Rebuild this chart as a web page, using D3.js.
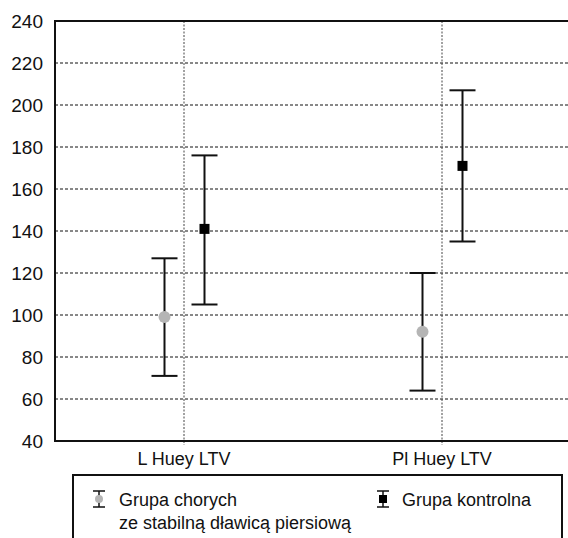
<!DOCTYPE html>
<html>
<head>
<meta charset="utf-8">
<script src="https://cdn.jsdelivr.net/npm/d3@7"></script>
<style>
  body { margin: 0; background: #fff; }
  svg text { font-family: "Liberation Sans", Arial, sans-serif; fill: #111; }
</style>
</head>
<body>
<div id="chart"></div>
<script>
const categories = ['L Huey LTV', 'Pl Huey LTV'];
const yTicks = [40, 60, 80, 100, 120, 140, 160, 180, 200, 220, 240];

// mean, lower, upper per category
const sickMean = [99, 92];
const sickLow = [71, 64];
const sickHigh = [127, 120];

const controlMean = [141, 171];
const controlLow = [105, 135];
const controlHigh = [176, 207];

const legendLabels = [['Grupa chorych', 'ze stabilną dławicą piersiową'], ['Grupa kontrolna']];

const width = 568;
const height = 538;
const plotLeft = 55, plotTop = 21, plotBottom = 441;

const svg = d3.select('#chart').append('svg')
	.attr('width', width)
	.attr('height', height);

const x = d3.scaleBand().domain(categories).range([plotLeft, plotLeft + 516]);
const y = d3.scaleLinear().domain([40, 240]).range([plotBottom, plotTop]);
const cx = (c) => x(c) + x.bandwidth() / 2;

// horizontal grid
svg.selectAll('.hgrid')
	.data(yTicks.filter((t) => t > 40 && t < 240))
	.join('line')
	.attr('x1', plotLeft).attr('x2', width)
	.attr('y1', (d) => y(d)).attr('y2', (d) => y(d))
	.attr('stroke', '#111')
	.attr('stroke-width', 1)
	.attr('stroke-dasharray', '3,2');

// vertical grid
svg.selectAll('.vgrid')
	.data(categories)
	.join('line')
	.attr('x1', (d) => cx(d)).attr('x2', (d) => cx(d))
	.attr('y1', plotTop).attr('y2', plotBottom + 4)
	.attr('stroke', '#444')
	.attr('stroke-width', 1)
	.attr('stroke-dasharray', '2,1.5');

// frame
svg.append('line').attr('x1', plotLeft).attr('x2', width).attr('y1', plotTop).attr('y2', plotTop)
	.attr('stroke', '#111').attr('stroke-width', 2);
svg.append('line').attr('x1', plotLeft).attr('x2', width).attr('y1', plotBottom).attr('y2', plotBottom)
	.attr('stroke', '#111').attr('stroke-width', 2);
svg.append('line').attr('x1', plotLeft).attr('x2', plotLeft).attr('y1', plotTop - 1).attr('y2', plotBottom + 1)
	.attr('stroke', '#111').attr('stroke-width', 2);

// y labels
svg.selectAll('.ylab')
	.data(yTicks)
	.join('text')
	.attr('x', 43)
	.attr('y', (d) => y(d) + 7)
	.attr('text-anchor', 'end')
	.attr('font-size', 19)
	.text((d) => d);

// x labels
svg.selectAll('.xlab')
	.data(categories)
	.join('text')
	.attr('x', (d) => cx(d))
	.attr('y', 465)
	.attr('text-anchor', 'middle')
	.attr('font-size', 18)
	.text((d) => d);

function errorBars(mean, low, high, offset, kind) {
	const g = svg.append('g');
	const d = categories.map((c, i) => ({ c, m: mean[i], lo: low[i], hi: high[i] }));
	g.selectAll('.stem').data(d).join('line')
		.attr('x1', (e) => cx(e.c) + offset).attr('x2', (e) => cx(e.c) + offset)
		.attr('y1', (e) => y(e.hi)).attr('y2', (e) => y(e.lo))
		.attr('stroke', '#111').attr('stroke-width', 2);
	['hi', 'lo'].forEach((k) => {
		g.selectAll('.cap-' + k).data(d).join('line')
			.attr('x1', (e) => cx(e.c) + offset - 13).attr('x2', (e) => cx(e.c) + offset + 13)
			.attr('y1', (e) => y(e[k])).attr('y2', (e) => y(e[k]))
			.attr('stroke', '#111').attr('stroke-width', 2);
	});
	if (kind === 'circle') {
		g.selectAll('circle').data(d).join('circle')
			.attr('cx', (e) => cx(e.c) + offset).attr('cy', (e) => y(e.m))
			.attr('r', 6).attr('fill', '#b5b5b5');
	} else {
		g.selectAll('rect').data(d).join('rect')
			.attr('x', (e) => cx(e.c) + offset - 5).attr('y', (e) => y(e.m) - 5)
			.attr('width', 10).attr('height', 10).attr('fill', '#000');
	}
}

errorBars(sickMean, sickLow, sickHigh, -19.5, 'circle');
errorBars(controlMean, controlLow, controlHigh, 20.5, 'square');

// legend
svg.append('rect')
	.attr('x', 73).attr('y', 475)
	.attr('width', 489).attr('height', 80)
	.attr('fill', 'none').attr('stroke', '#111').attr('stroke-width', 2);

function legendSymbol(sx, sy, kind) {
	const g = svg.append('g');
	g.append('line').attr('x1', sx).attr('x2', sx).attr('y1', sy - 8).attr('y2', sy + 8)
		.attr('stroke', '#111').attr('stroke-width', 1.5);
	[-8, 8].forEach((dy) => {
		g.append('line').attr('x1', sx - 6).attr('x2', sx + 6).attr('y1', sy + dy).attr('y2', sy + dy)
			.attr('stroke', '#111').attr('stroke-width', 1.5);
	});
	if (kind === 'circle') {
		g.append('circle').attr('cx', sx).attr('cy', sy).attr('r', 4).attr('fill', '#b5b5b5');
	} else {
		g.append('rect').attr('x', sx - 4).attr('y', sy - 4).attr('width', 8).attr('height', 8).attr('fill', '#000');
	}
}

legendSymbol(99, 499, 'circle');
legendSymbol(383, 499, 'square');

const leg1 = svg.append('text').attr('x', 119).attr('y', 506).attr('font-size', 18);
legendLabels[0].forEach((t, i) => {
	leg1.append('tspan').attr('x', 119).attr('dy', i === 0 ? 0 : 23).text(t);
});
svg.append('text').attr('x', 402).attr('y', 506).attr('font-size', 18).text(legendLabels[1][0]);
</script>
</body>
</html>
